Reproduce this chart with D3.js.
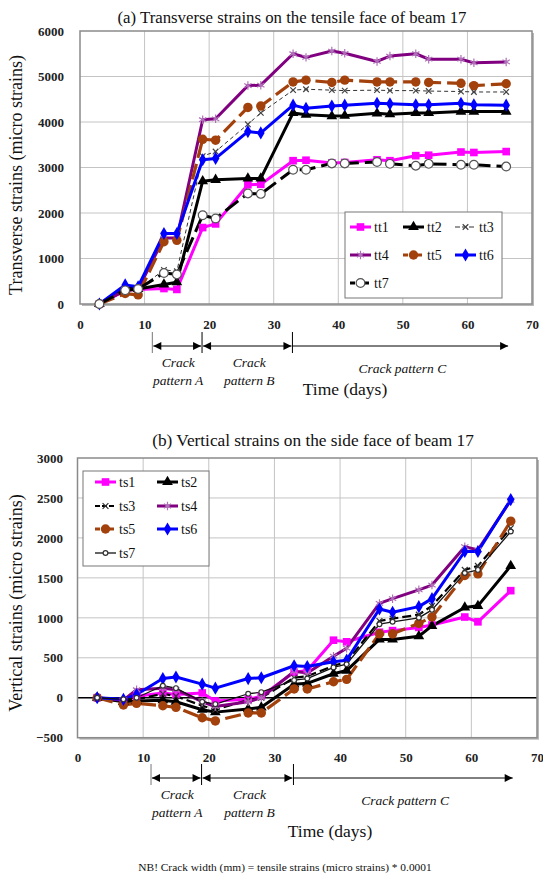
<!DOCTYPE html>
<html><head><meta charset="utf-8">
<script src="https://cdn.jsdelivr.net/npm/d3@7"></script>
<style>body{margin:0;background:#fff}svg{display:block}text{font-family:"Liberation Serif","Times New Roman",serif}</style>
</head><body><svg id="c" width="543" height="878"></svg>
<script>
// ---------- data ----------
const days = [3,7,9,13,15,19,21,26,28,33,35,39,41,46,48,52,54,59,61,66];

const tt1 = [0,300,320,340,320,1680,1760,2620,2630,3150,3160,3100,3110,3170,3150,3260,3270,3340,3330,3350];
const tt2 = [0,350,330,430,480,2700,2730,2760,2760,4200,4160,4130,4140,4190,4170,4200,4200,4230,4230,4230];
const tt3 = [0,280,320,750,720,3250,3350,3950,4200,4700,4720,4700,4690,4700,4690,4690,4680,4670,4660,4660];
const tt4 = [0,300,330,1450,1450,4050,4070,4800,4810,5500,5420,5560,5510,5330,5450,5500,5380,5380,5300,5320];
const tt5 = [0,230,200,1370,1400,3620,3600,4320,4350,4880,4920,4870,4920,4880,4880,4880,4870,4850,4800,4840];
const tt6 = [0,420,380,1550,1550,3170,3200,3790,3760,4370,4300,4350,4370,4410,4400,4380,4380,4410,4380,4370];
const tt7 = [0,300,330,680,650,1950,1880,2430,2420,2950,2950,3090,3090,3120,3080,3040,3080,3060,3060,3020];

const ts1 = [0,-40,20,60,40,60,-40,-20,20,320,340,720,700,820,840,880,910,1010,950,1340];
const ts2 = [0,-50,-40,-30,-50,-150,-180,-140,-120,170,180,300,340,730,730,770,900,1130,1150,1650];
const ts3 = [0,-30,-20,50,20,-100,-150,-30,0,250,270,400,450,960,990,1040,1150,1600,1650,2120];
const ts4 = [0,-30,100,120,100,-50,-110,-50,0,330,310,520,620,1180,1240,1350,1410,1890,1850,2470];
const ts5 = [0,-90,-70,-100,-120,-250,-290,-190,-190,110,110,200,230,800,800,930,1010,1530,1550,2210];
const ts6 = [0,-20,40,240,260,170,120,240,250,400,390,450,470,1110,1070,1140,1240,1830,1830,2480];
const ts7 = [0,-20,0,150,120,-50,-80,50,70,220,240,380,420,920,950,1000,1100,1560,1600,2080];

const topNames = ["tt1","tt2","tt3","tt4","tt5","tt6","tt7"];
const botNames = ["ts1","ts2","ts3","ts4","ts5","ts6","ts7"];
const xTicks = [0,10,20,30,40,50,60,70];
const yTicksTop = [0,1000,2000,3000,4000,5000,6000];
const yTicksBot = [-500,0,500,1000,1500,2000,2500,3000];
const crackDays = [11.2,18.9,32.9,66.3];

// ---------- styles ----------
const topStyles = [
  {c:"#ff00ff", w:3, dash:null, m:"square", mf:"#ff00ff", ms:58},
  {c:"#000", w:3, dash:null, m:"triangle", mf:"#000", ms:50},
  {c:"#333", w:1, dash:"4,3", m:"times", mf:"none", ms:22, mstroke:"#444"},
  {c:"#800080", w:3, dash:null, m:"asterisk", mf:"none", ms:50, mstroke:"#b070b8"},
  {c:"#a3410c", w:3.2, dash:"16,6", m:"circle", mf:"#a3410c", ms:70},
  {c:"#0000ff", w:3, dash:null, m:"diamond", mf:"#0000ff", ms:50},
  {c:"#000", w:3, dash:"16,6", m:"circle", mf:"#fff", ms:60, mstroke:"#555"}
];
const botStyles = [
  {c:"#ff00ff", w:3, dash:null, m:"square", mf:"#ff00ff", ms:58},
  {c:"#000", w:3, dash:null, m:"triangle", mf:"#000", ms:50},
  {c:"#000", w:2.2, dash:"9,4", m:"times", mf:"none", ms:24, mstroke:"#333"},
  {c:"#800080", w:3, dash:null, m:"asterisk", mf:"none", ms:50, mstroke:"#b070b8"},
  {c:"#a3410c", w:3.2, dash:"16,6", m:"circle", mf:"#a3410c", ms:70},
  {c:"#0000ff", w:3, dash:null, m:"diamond", mf:"#0000ff", ms:50},
  {c:"#111", w:1.3, dash:null, m:"circle", mf:"#fff", ms:18, mstroke:"#333"}
];
const symMap = {square:d3.symbolSquare, triangle:d3.symbolTriangle, times:d3.symbolTimes,
  asterisk:d3.symbolAsterisk, circle:d3.symbolCircle, diamond:d3.symbolDiamond};

const svg = d3.select("#c");
svg.append("rect").attr("width",543).attr("height",878).attr("fill","#fff");

const defs = svg.append("defs");
defs.append("marker").attr("id","ah").attr("viewBox","0 0 10 10").attr("refX",10).attr("refY",5)
  .attr("markerWidth",9).attr("markerHeight",8).attr("markerUnits","userSpaceOnUse").attr("orient","auto-start-reverse")
  .append("path").attr("d","M0,0L10,5L0,10Z").attr("fill","#000");

function drawChart(o){
  const x = d3.scaleLinear().domain([0,70]).range(o.xr);
  const y = d3.scaleLinear().domain(o.yd).range(o.yr);
  const g = svg.append("g");
  const [x0,x1] = o.xr, [y0,y1] = o.yr;
  // shadow + frame background
  g.append("rect").attr("x",x0+2).attr("y",y1+2).attr("width",x1-x0).attr("height",y0-y1).attr("fill","#b8b8b8");
  g.append("rect").attr("x",x0).attr("y",y1).attr("width",x1-x0).attr("height",y0-y1).attr("fill","#fff");
  // grid
  g.append("g").selectAll("line").data(xTicks.slice(1,-1)).join("line")
    .attr("x1",d=>x(d)).attr("x2",d=>x(d)).attr("y1",y1).attr("y2",y0).attr("stroke","#c4c4c4").attr("stroke-width",1);
  g.append("g").selectAll("line").data(o.yt.slice(1,-1)).join("line")
    .attr("y1",d=>y(d)).attr("y2",d=>y(d)).attr("x1",x0).attr("x2",x1).attr("stroke","#c4c4c4").attr("stroke-width",1);
  if(o.zero){ g.append("line").attr("x1",x0).attr("x2",x1).attr("y1",y(0)).attr("y2",y(0)).attr("stroke","#000").attr("stroke-width",1.3); }
  g.append("rect").attr("x",x0).attr("y",y1).attr("width",x1-x0).attr("height",y0-y1)
    .attr("fill","none").attr("stroke","#8a8a8a").attr("stroke-width",1.5);
  // axes
  const ax = g.append("g").attr("transform",`translate(0,${o.xLabY})`)
    .call(d3.axisBottom(x).tickValues(xTicks).tickSize(0).tickPadding(0).tickFormat(d3.format("d")));
  ax.select(".domain").remove();
  ax.selectAll("text").attr("font-size",13).attr("font-weight","bold").attr("fill","#222").attr("font-family","Liberation Serif");
  const ay = g.append("g").attr("transform",`translate(${o.yLabX},0)`)
    .call(d3.axisLeft(y).tickValues(o.yt).tickSize(0).tickPadding(0).tickFormat(d3.format("d")));
  ay.select(".domain").remove();
  ay.selectAll("text").attr("font-size",13).attr("font-weight","bold").attr("fill","#222").attr("font-family","Liberation Serif");
  // series
  const line = d3.line().x((d,i)=>x(days[i])).y(d=>y(d));
  o.series.forEach((s,k)=>{
    const st = o.styles[k];
    g.append("path").datum(s).attr("d",line).attr("fill","none").attr("stroke",st.c)
      .attr("stroke-width",st.w).attr("stroke-dasharray",st.dash).attr("stroke-linejoin","round");
  });
  o.series.forEach((s,k)=>{
    const st = o.styles[k];
    g.append("g").selectAll("path").data(s).join("path")
      .attr("transform",(d,i)=>`translate(${x(days[i])},${y(d)})`)
      .attr("d",d3.symbol(symMap[st.m],st.ms))
      .attr("fill",st.mf).attr("stroke",st.mstroke||"none").attr("stroke-width",st.mstroke?1.2:0);
  });
  // legend
  const L = o.leg;
  g.append("rect").attr("x",L.x).attr("y",L.y).attr("width",L.w).attr("height",L.h)
    .attr("fill","#fff").attr("stroke","#777").attr("stroke-width",1);
  o.names.forEach((n,k)=>{
    const st = o.styles[k];
    const cx = L.cols[k%L.nc], cy = L.rows[Math.floor(k/L.nc)];
    g.append("line").attr("x1",cx).attr("x2",cx+L.ll).attr("y1",cy).attr("y2",cy)
      .attr("stroke",st.c).attr("stroke-width",st.w).attr("stroke-dasharray",st.dash?"5,2":null);
    g.append("path").attr("transform",`translate(${cx+L.ll/2},${cy})`).attr("d",d3.symbol(symMap[st.m],st.ms))
      .attr("fill",st.mf).attr("stroke",st.mstroke||"none").attr("stroke-width",st.mstroke?1.2:0);
    g.append("text").attr("x",cx+L.ll+3).attr("y",cy+5).attr("font-size",14).attr("fill","#111").text(n);
  });
  // titles
  svg.append("text").attr("x",o.title[0]).attr("y",o.title[1]).attr("text-anchor","middle")
    .attr("font-size",o.title[3]).attr("fill","#111").text(o.title[2]);
  svg.append("text").attr("transform",`translate(${o.ytitle[0]},${o.ytitle[1]}) rotate(-90)`).attr("text-anchor","middle")
    .attr("font-size",18).attr("fill","#111").text(o.ytitle[2]);
  svg.append("text").attr("x",o.xtitle[0]).attr("y",o.xtitle[1]).attr("text-anchor","middle")
    .attr("font-size",17.5).attr("fill","#111").text("Time (days)");
  // crack pattern annotation
  const ay0 = o.arrowY;
  const cx = crackDays.map(d=>x(d));
  [0,1,2].forEach(i=>{
    g.append("line").attr("x1",cx[i]).attr("x2",cx[i]).attr("y1",ay0-14).attr("y2",ay0+7)
      .attr("stroke",i==0?"#777":"#000").attr("stroke-width",1);
  });
  g.append("line").attr("x1",cx[0]+1).attr("x2",cx[1]-1).attr("y1",ay0).attr("y2",ay0).attr("stroke","#000").attr("stroke-width",1)
    .attr("marker-start","url(#ah)").attr("marker-end","url(#ah)");
  g.append("line").attr("x1",cx[1]+1).attr("x2",cx[2]-1).attr("y1",ay0).attr("y2",ay0).attr("stroke","#000").attr("stroke-width",1)
    .attr("marker-start","url(#ah)").attr("marker-end","url(#ah)");
  g.append("line").attr("x1",cx[2]).attr("x2",cx[3]).attr("y1",ay0).attr("y2",ay0).attr("stroke","#000").attr("stroke-width",1)
    .attr("marker-end","url(#ah)");
  const it = (tx,ty,s)=>g.append("text").attr("x",tx).attr("y",ty).attr("text-anchor","middle")
    .attr("font-size",13.5).attr("font-style","italic").attr("fill","#111").text(s);
  it((cx[0]+cx[1])/2+1, ay0+21, "Crack"); it((cx[0]+cx[1])/2+1, ay0+39, "pattern A");
  it((cx[1]+cx[2])/2+2, ay0+21, "Crack"); it((cx[1]+cx[2])/2+2, ay0+39, "pattern B");
  it((cx[2]+cx[3])/2+2, ay0+27, "Crack pattern C");
}

drawChart({
  xr:[80,532], yd:[0,6000], yr:[304,31], yt:yTicksTop, zero:false,
  xLabY:320, yLabX:64,
  series:[tt1,tt2,tt3,tt4,tt5,tt6,tt7], styles:topStyles, names:topNames,
  leg:{x:345,y:212,w:157,h:86,nc:3,cols:[350,403,455],rows:[227,255,283],ll:21},
  title:[292,23,"(a) Transverse strains on the tensile face of beam 17",16.8],
  ytitle:[22,175,"Transverse strains (micro strains)"],
  xtitle:[345,395], arrowY:346
});
drawChart({
  xr:[77.5,537], yd:[-500,3000], yr:[737.7,458], yt:yTicksBot, zero:true,
  xLabY:753, yLabX:63,
  series:[ts1,ts2,ts3,ts4,ts5,ts6,ts7], styles:botStyles, names:botNames,
  leg:{x:83,y:471,w:126,h:95,nc:2,cols:[95,157],rows:[482,506,529,553],ll:21},
  title:[313,446,"(b) Vertical strains on the side face of beam 17",17.3],
  ytitle:[22,603,"Vertical strains (micro strains)"],
  xtitle:[330,837], arrowY:778
});
svg.append("text").attr("x",285).attr("y",871).attr("text-anchor","middle").attr("font-size",11.4).attr("fill","#111")
  .text("NB! Crack width (mm) = tensile strains (micro strains) * 0.0001");
</script></body></html>
